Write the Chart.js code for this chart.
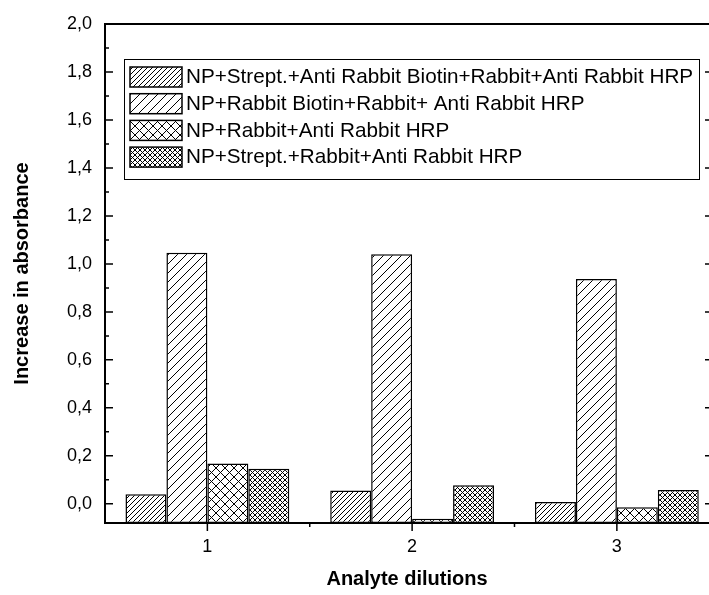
<!DOCTYPE html>
<html>
<head>
<meta charset="utf-8">
<script src="https://cdn.jsdelivr.net/npm/chart.js@4.4.0/dist/chart.umd.min.js"></script>
<style>
    html, body { margin: 0; padding: 0; background: #fff; }
</style>
</head>
<body>
<canvas id="absorbanceCanvas" width="709" height="595"></canvas>
<script>
// valeurs
var dilutions = [1, 2, 3];
var serieLabels = [
    'NP+Strept.+Anti Rabbit Biotin+Rabbit+Anti Rabbit HRP',
    'NP+Rabbit Biotin+Rabbit+ Anti Rabbit HRP',
    'NP+Rabbit+Anti Rabbit HRP',
    'NP+Strept.+Rabbit+Anti Rabbit HRP'
];
var streptBiotin = [0.040, 0.055, 0.008];
var rabbitBiotin = [1.046, 1.040, 0.937];
var rabbitSeul = [0.168, -0.062, -0.014];
var streptRabbit = [0.146, 0.077, 0.058];
var yTicks = [0, 0.2, 0.4, 0.6, 0.8, 1.0, 1.2, 1.4, 1.6, 1.8, 2.0];
var yMin = -0.08;
var yMax = 2.0;

var police = 'Liberation Sans, Arial, sans-serif';

// motifs hachurés (Origin)
function hachure(pas, croise) {
    var c = document.createElement('canvas');
    c.width = pas;
    c.height = pas;
    var g = c.getContext('2d');
    g.fillStyle = '#fff';
    g.fillRect(0, 0, pas, pas);
    g.strokeStyle = '#000';
    g.lineWidth = 1;
    g.beginPath();
    g.moveTo(-1, pas + 1); g.lineTo(pas + 1, -1);
    g.moveTo(-1, 1); g.lineTo(1, -1);
    g.moveTo(pas - 1, pas + 1); g.lineTo(pas + 1, pas - 1);
    if (croise) {
        g.moveTo(-1, -1); g.lineTo(pas + 1, pas + 1);
        g.moveTo(pas - 1, -1); g.lineTo(pas + 1, 1);
        g.moveTo(-1, pas - 1); g.lineTo(1, pas + 1);
    }
    g.stroke();
    return g.createPattern(c, 'repeat');
}

var motifs = [hachure(5, false), hachure(9, false), hachure(9, true), hachure(5, true)];
var series = [streptBiotin, rabbitBiotin, rabbitSeul, streptRabbit];

function points(valeurs) {
    return dilutions.map(function (d, i) { return { x: d, y: valeurs[i] }; });
}

var datasets = series.map(function (valeurs, i) {
    return {
        label: serieLabels[i],
        data: points(valeurs),
        backgroundColor: motifs[i],
        borderColor: '#000',
        borderWidth: 1.5,
        borderSkipped: false,
        base: yMin,
        categoryPercentage: 0.8,
        barPercentage: 1.0
    };
});

// cadre + graduations
var cadrePlugin = {
    id: 'cadre',
    afterDatasetsDraw: function (chart) {
        var ctx = chart.ctx;
        var a = chart.chartArea;
        var sx = chart.scales.x;
        var sy = chart.scales.y;
        ctx.save();
        ctx.strokeStyle = '#000';
        ctx.lineWidth = 2;
        ctx.beginPath();
        ctx.moveTo(a.right + 2, a.top);
        ctx.lineTo(a.left, a.top);
        ctx.lineTo(a.left, a.bottom);
        ctx.lineTo(a.right + 2, a.bottom);
        ctx.stroke();

        ctx.lineWidth = 1.5;
        ctx.beginPath();
        yTicks.forEach(function (v, i) {
            var py = sy.getPixelForValue(v);
            ctx.moveTo(a.left, py); ctx.lineTo(a.left + 8, py);
            ctx.moveTo(a.right, py); ctx.lineTo(a.right - 4, py);
            if (i < yTicks.length - 1) {
                var pm = sy.getPixelForValue((v + yTicks[i + 1]) / 2);
                ctx.moveTo(a.left, pm); ctx.lineTo(a.left + 4, pm);
            }
        });
        dilutions.forEach(function (d, i) {
            var px = sx.getPixelForValue(d);
            ctx.moveTo(px, a.bottom); ctx.lineTo(px, a.bottom + 8);
            if (i < dilutions.length - 1) {
                var pm = sx.getPixelForValue(d + 0.5);
                ctx.moveTo(pm, a.bottom); ctx.lineTo(pm, a.bottom + 4);
            }
        });
        ctx.stroke();
        ctx.restore();
    },
    afterDraw: function (chart) {
        // légende encadrée dans le graphe
        var ctx = chart.ctx;
        var bx = 124, by = 59, bw = 575, bh = 120;
        ctx.save();
        ctx.fillStyle = '#fff';
        ctx.fillRect(bx, by, bw, bh);
        ctx.strokeStyle = '#000';
        ctx.lineWidth = 1;
        ctx.strokeRect(bx + 0.5, by + 0.5, bw, bh);
        ctx.font = '20.7px ' + police;
        ctx.textBaseline = 'middle';
        chart.data.datasets.forEach(function (ds, i) {
            var ry = by + 8 + i * 26.7;
            ctx.fillStyle = ds.backgroundColor;
            ctx.fillRect(130, ry, 52, 20);
            ctx.lineWidth = 1.5;
            ctx.strokeRect(130, ry, 52, 20);
            ctx.fillStyle = '#000';
            ctx.fillText(ds.label, 186, ry + 10.5);
        });
        ctx.restore();
    }
};

var ctx1 = document.getElementById('absorbanceCanvas').getContext('2d');
var absorbanceChart = new Chart(ctx1, {
    type: 'bar',
    data: { datasets: datasets },
    options: {
        responsive: false,
        animation: false,
        layout: { padding: { top: 24, right: 0, bottom: 0, left: 0 } },
        plugins: {
            legend: { display: false },
            tooltip: { enabled: false }
        },
        scales: {
            x: {
                type: 'linear',
                min: 0.5,
                max: 3.45,
                offset: false,
                grid: { display: false, drawTicks: false },
                border: { display: false },
                afterBuildTicks: function (s) { s.ticks = dilutions.map(function (d) { return { value: d }; }); },
                afterFit: function (s) { s.height = 72; },
                ticks: {
                    padding: 13,
                    color: '#000',
                    font: { family: police, size: 18 },
                    callback: function (v) { return String(v); }
                },
                title: {
                    display: true,
                    text: 'Analyte dilutions',
                    color: '#000',
                    font: { family: police, size: 20, weight: 'bold' },
                    padding: { top: 0, bottom: 4 }
                }
            },
            y: {
                min: yMin,
                max: yMax,
                grid: { display: false, drawTicks: false },
                border: { display: false },
                afterBuildTicks: function (s) { s.ticks = yTicks.map(function (v) { return { value: v }; }); },
                afterFit: function (s) { s.width = 105; },
                ticks: {
                    padding: 13,
                    color: '#000',
                    font: { family: police, size: 18 },
                    callback: function (v) { return v.toFixed(1).replace('.', ','); }
                },
                title: {
                    display: true,
                    text: 'Increase in absorbance',
                    color: '#000',
                    font: { family: police, size: 20, weight: 'bold' },
                    padding: { top: 10, bottom: 0 }
                }
            }
        }
    },
    plugins: [cadrePlugin]
});
</script>
</body>
</html>
